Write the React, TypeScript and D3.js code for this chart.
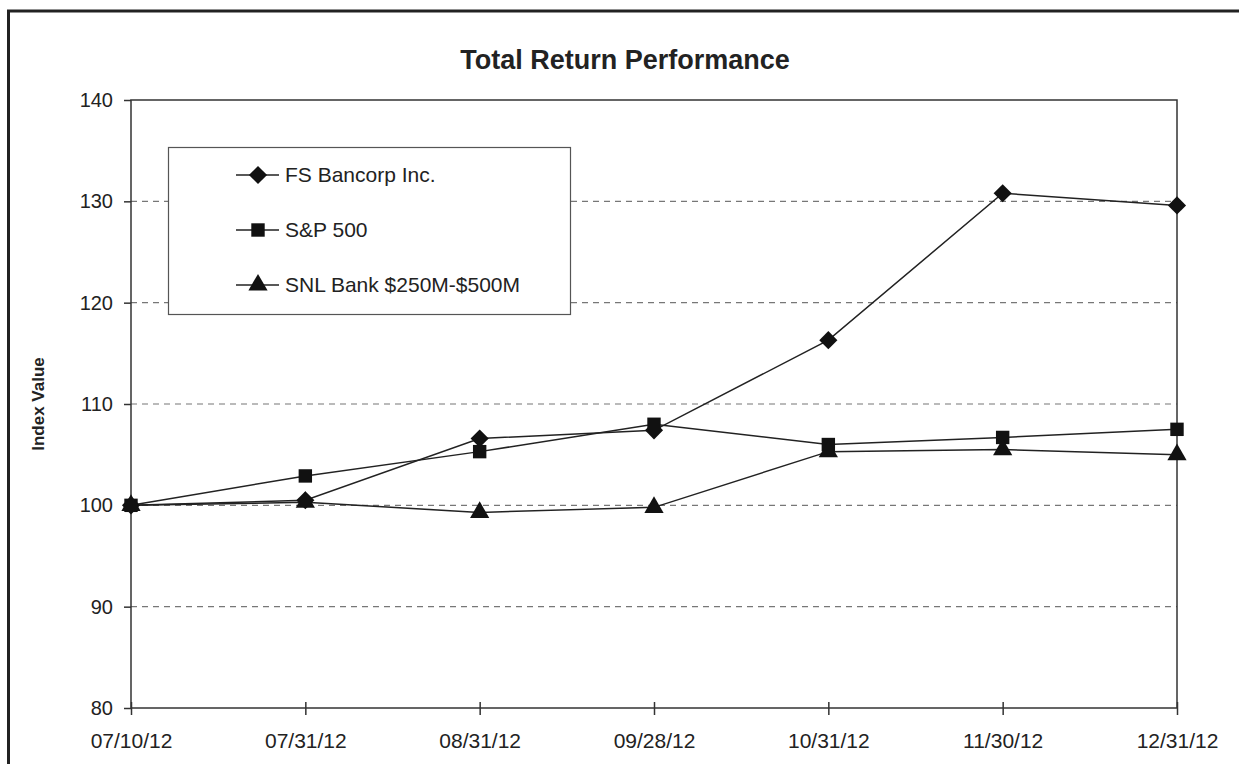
import { useEffect, useRef } from 'react'
import * as d3 from 'd3'

const dates = ['07/10/12', '07/31/12', '08/31/12', '09/28/12', '10/31/12', '11/30/12', '12/31/12']
const fsBancorp = [100, 100.5, 106.6, 107.4, 116.3, 130.8, 129.6]
const sp500 = [100, 102.9, 105.3, 108.0, 106.0, 106.7, 107.5]
const snlBank = [100, 100.3, 99.3, 99.8, 105.3, 105.5, 105.0]
const yTicks = [80, 90, 100, 110, 120, 130, 140]

const seriesNames = ['FS Bancorp Inc.', 'S&P 500', 'SNL Bank $250M-$500M']
const seriesShapes = [d3.symbolDiamond2, d3.symbolSquare, d3.symbolTriangle]

const W = 1239
const H = 764
const FONT = "'Liberation Sans', Arial, sans-serif"

export default function App() {
  const ref = useRef<SVGSVGElement>(null)

  useEffect(() => {
    const svg = d3.select(ref.current)
    svg.selectAll('*').remove()

    const left = 131, right = 1177, top = 100, bottom = 708

    const x = d3.scalePoint().domain(dates).range([left, right])
    const y = d3.scaleLinear().domain([80, 140]).range([bottom, top])

    svg.append('rect').attr('width', W).attr('height', H).attr('fill', '#fff')

    // outer frame (left + top)
    svg.append('path')
      .attr('d', `M8.5,${H} L8.5,11 L${W},11`)
      .attr('fill', 'none')
      .attr('stroke', '#222')
      .attr('stroke-width', 3)

    // title
    svg.append('text')
      .attr('x', 625).attr('y', 69)
      .attr('text-anchor', 'middle')
      .attr('font-family', FONT)
      .attr('font-size', 27)
      .attr('font-weight', 'bold')
      .attr('fill', '#222')
      .text('Total Return Performance')

    // gridlines
    svg.append('g').selectAll('line')
      .data(yTicks.filter(t => t > 80 && t < 140))
      .join('line')
      .attr('x1', left).attr('x2', right)
      .attr('y1', d => y(d)).attr('y2', d => y(d))
      .attr('stroke', '#777')
      .attr('stroke-width', 1.2)
      .attr('stroke-dasharray', '6,5')

    // plot border
    svg.append('rect')
      .attr('x', left).attr('y', top)
      .attr('width', right - left).attr('height', bottom - top)
      .attr('fill', 'none')
      .attr('stroke', '#333')
      .attr('stroke-width', 1.5)

    // y axis
    const yAxis = svg.append('g')
      .attr('transform', `translate(${left},0)`)
      .call(d3.axisLeft(y).tickValues(yTicks).tickSize(7).tickPadding(11))
    yAxis.select('.domain').remove()
    yAxis.selectAll('line').attr('stroke', '#333').attr('stroke-width', 1.5)
    yAxis.selectAll('text')
      .attr('font-family', FONT).attr('font-size', 20).attr('fill', '#222')

    // x axis
    const xAxis = svg.append('g')
      .attr('transform', `translate(0,${bottom})`)
      .call(d3.axisBottom(x).tickSizeInner(7).tickSizeOuter(0).tickPadding(18))
    xAxis.select('.domain').remove()
    xAxis.selectAll('line').attr('y1', -6).attr('stroke', '#333').attr('stroke-width', 1.5)
    xAxis.selectAll('text')
      .attr('font-family', FONT).attr('font-size', 21).attr('fill', '#222')

    // y axis title
    svg.append('text')
      .attr('transform', `translate(44,404) rotate(-90)`)
      .attr('text-anchor', 'middle')
      .attr('font-family', FONT)
      .attr('font-size', 17)
      .attr('font-weight', 'bold')
      .attr('fill', '#222')
      .text('Index Value')

    const allSeries = [fsBancorp, sp500, snlBank]
    const line = d3.line<number>().x((_, i) => x(dates[i])!).y(d => y(d))
    const sym = (i: number) => d3.symbol().type(seriesShapes[i]).size(i === 1 ? 180 : i === 0 ? 210 : 160)

    allSeries.forEach((s) => {
      svg.append('path')
        .datum(s)
        .attr('d', line)
        .attr('fill', 'none')
        .attr('stroke', '#222')
        .attr('stroke-width', 1.5)
    })
    allSeries.forEach((s, i) => {
      svg.append('g').selectAll('path')
        .data(s)
        .join('path')
        .attr('transform', (d, j) => `translate(${x(dates[j])},${y(d)})`)
        .attr('d', sym(i)())
        .attr('fill', '#111')
    })

    // legend
    const lg = svg.append('g')
    lg.append('rect')
      .attr('x', 168.5).attr('y', 147.5)
      .attr('width', 402).attr('height', 167)
      .attr('fill', '#fff')
      .attr('stroke', '#555')
      .attr('stroke-width', 1.2)
    seriesNames.forEach((name, i) => {
      const cy = 175 + i * 55
      lg.append('line')
        .attr('x1', 236).attr('x2', 279)
        .attr('y1', cy).attr('y2', cy)
        .attr('stroke', '#222').attr('stroke-width', 1.5)
      lg.append('path')
        .attr('transform', `translate(258,${cy})`)
        .attr('d', sym(i)())
        .attr('fill', '#111')
      lg.append('text')
        .attr('x', 285).attr('y', cy + 7)
        .attr('font-family', FONT).attr('font-size', 21).attr('fill', '#222')
        .text(name)
    })
  }, [])

  return (
    <svg ref={ref} width={W} height={H}
      style={{ position: 'absolute', left: 0, top: 0, display: 'block' }} />
  )
}
